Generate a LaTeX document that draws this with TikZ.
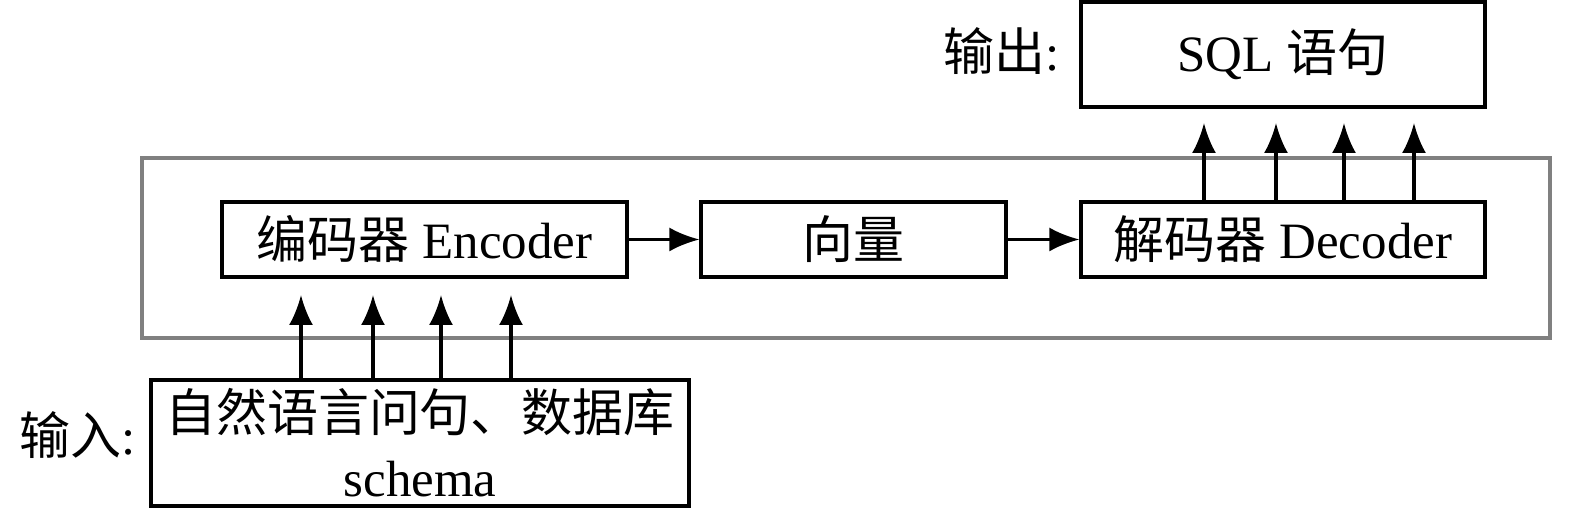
\documentclass[tikz,border=0pt]{standalone}
\usepackage{fontspec}
\setmainfont{Liberation Serif}
\newfontfamily\cjk{Noto Sans CJK SC}
\usepackage{tikz}
\usetikzlibrary{arrows.meta,positioning}

\begin{document}
\begin{tikzpicture}[
	font=\fontsize{14.5}{18.5}\selectfont,
	box/.style={draw, line width=0.9pt, inner sep=0pt, minimum height=0.75cm},
	arr/.style={line width=0.9pt, -{Latex[length=3mm,width=2.4mm]}},
	frame/.style={draw=black!50, line width=0.9pt}
	]
						\useasboundingbox (0,0) rectangle (15.75,5.15);
						\draw[frame] (1.42,1.77) rectangle (15.50,3.57);
						\node[box, minimum width=4.05cm] (enc) at (4.245,2.755) {{\cjk 编码器} Encoder};
						\node[box, minimum width=3.05cm] (vec) at (8.535,2.755) {\cjk 向量};
						\node[box, minimum width=4.04cm] (dec) at (12.83,2.755) {{\cjk 解码器} Decoder};
						\node[box, minimum width=4.04cm, minimum height=1.05cm] (sql) at (12.83,4.605) {SQL {\cjk 语句}};
						\node[box, minimum width=5.38cm, minimum height=1.26cm, align=center] (inp) at (4.20,0.72) {{\cjk 自然语言问句、数据库}\\schema};
						\node[anchor=east] (inlabel) at (1.48,0.80) {{\cjk 输入}:};
						\node[anchor=east] (outlabel) at (10.72,4.64) {{\cjk 输出}:};
						\draw[arr] (enc) -- (vec);
						\draw[arr] (vec) -- (dec);
						\foreach \x [count=\i] in {3.01,3.73,4.41,5.11} {
							\coordinate (in\i) at (\x,2.20);
							\draw[arr] (inp.north -| in\i) -- (in\i);
						}
						\foreach \x [count=\i] in {12.04,12.76,13.44,14.14} {
							\coordinate (out\i) at (\x,3.92);
							\draw[arr] (dec.north -| out\i) -- (out\i);
						}
					\end{tikzpicture}
\end{document}
